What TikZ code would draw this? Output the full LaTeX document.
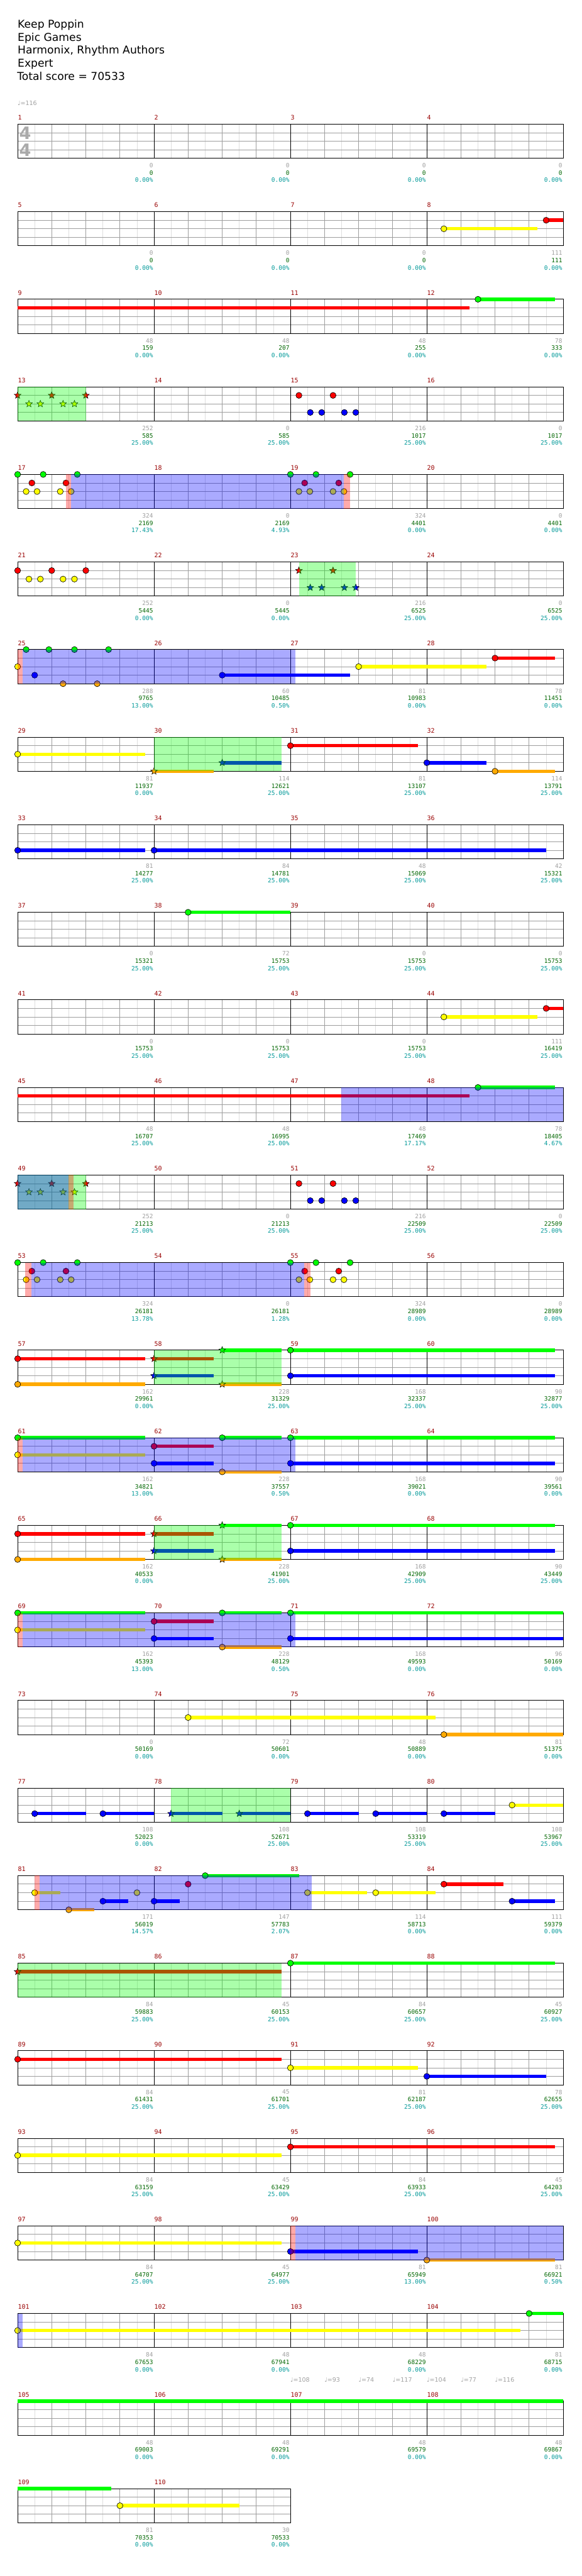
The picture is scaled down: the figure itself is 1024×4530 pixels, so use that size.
\documentclass[tikz,border=0pt]{standalone}
\usepackage{fontspec}
\setmainfont{DejaVu Sans}
\newfontfamily\monof{DejaVu Sans Mono}
\usetikzlibrary{shapes.geometric}
\definecolor{cG}{RGB}{0,255,0}
\definecolor{cR}{RGB}{255,0,0}
\definecolor{cY}{RGB}{255,255,0}
\definecolor{cB}{RGB}{0,0,255}
\definecolor{cO}{RGB}{255,170,0}
\definecolor{lgray}{RGB}{222,222,222}
\definecolor{mgray}{RGB}{158,158,158}
\definecolor{mred}{RGB}{153,0,0}
\definecolor{sgray}{RGB}{160,160,160}
\definecolor{sgreen}{RGB}{0,102,0}
\definecolor{steal}{RGB}{0,153,153}
\definecolor{tsgray}{RGB}{170,170,170}
\newcounter{nd}
\tikzset{
  head/.style={draw=black,line width=0.7pt},
  sus/.style={line width=6pt},
  starn/.style={star,star points=5,star point ratio=2.3,minimum size=12.5pt,inner sep=0pt,draw=black,line width=0.6pt},
  halfl/.style={draw=lgray,line width=0.8pt},
  beatl/.style={draw=mgray,line width=0.9pt},
  lanel/.style={draw=mgray,line width=0.9pt},
  barl/.style={draw=black,line width=1.1pt},
  mnum/.style={anchor=west,inner sep=0pt,text=mred,font=\monof\fontsize{11}{11}\selectfont},
  st1/.style={anchor=east,inner sep=0pt,text=sgray,font=\monof\fontsize{10.5}{10.5}\selectfont},
  st2/.style={anchor=east,inner sep=0pt,text=sgreen,font=\monof\fontsize{10.5}{10.5}\selectfont},
  st3/.style={anchor=east,inner sep=0pt,text=steal,font=\monof\fontsize{10.5}{10.5}\selectfont},
  tempo/.style={anchor=west,inner sep=0pt,text=sgray,font=\fontsize{10.5}{10.5}\selectfont},
  tsig/.style={inner sep=0pt,text=tsgray,font=\bfseries\fontsize{30}{30}\selectfont},
  ttl/.style={anchor=base west,inner sep=0pt,font=\fontsize{19}{23}\selectfont}
}
\newcommand\Grid[1]{%
  \pgfmathtruncatemacro\nh{4*#1-1}%
  \pgfmathtruncatemacro\nm{#1-1}%
  \foreach \k in {0,...,\nh} {\draw[halfl] (60*\k+30,0) -- (60*\k+30,60);}
  \foreach \k in {1,...,\nh} {\draw[beatl] (60*\k,0) -- (60*\k,60);}
  \foreach \yy in {15,30,45} {\draw[lanel] (0,\yy) -- (240*#1,\yy);}
  \foreach \k in {1,...,\nm} {\draw[barl] (240*\k,0) -- (240*\k,60);}
  \draw[barl] (0,0) rectangle (240*#1,60);
}
\newcommand\Hd[3]{\draw[head,fill=#1] ({60*(#2)},{15*(#3)}) circle[radius=5.3pt];}
\newcommand\Sus[4]{\draw[sus,#1] ({60*(#2)},{15*(#4)}) -- ({60*(#3)},{15*(#4)});}
\newcommand\Sx[3]{\stepcounter{nd}\node[starn,fill=#1] (n\arabic{nd}) at ({60*(#2)},{15*(#3)}) {};}
\newcommand\OvG[2]{\fill[cG,opacity=0.333] ({60*(#1)},0) rectangle ({60*(#2)},60);}
\newcommand\OvB[2]{\fill[cB,opacity=0.333] ({60*(#1)},0) rectangle ({60*(#2)},60);}
\newcommand\OvP[2]{\fill[cR,opacity=0.333] ({60*(#1)},0) rectangle ({60*(#2)},60);}
\newcommand\Meas[5]{%
  \stepcounter{nd}\node[mnum] (n\arabic{nd}) at (240*#1-240+0.5,-11.5) {#2};
  \stepcounter{nd}\node[st1] (n\arabic{nd}) at (240*#1-1.5,72.7) {#3};
  \stepcounter{nd}\node[st2] (n\arabic{nd}) at (240*#1-1.5,85.7) {#4};
  \stepcounter{nd}\node[st3] (n\arabic{nd}) at (240*#1-1.5,98.4) {#5\%};}
% patterns
\newcommand\TripStars{% red stars 0,1,2; yellow stars thirds
  \Sx{cR}{0}{1}\Sx{cR}{1}{1}\Sx{cR}{2}{1}
  \Sx{cY}{0.333}{2}\Sx{cY}{0.667}{2}\Sx{cY}{1.333}{2}\Sx{cY}{1.667}{2}}
\newcommand\RBnotes[1]{% red + blue pattern starting at beat #1
  \Hd{cR}{#1+0.25}{1}\Hd{cR}{#1+1.25}{1}
  \Hd{cB}{#1+0.583}{3}\Hd{cB}{#1+0.917}{3}\Hd{cB}{#1+1.583}{3}\Hd{cB}{#1+1.917}{3}}
\newcommand\GRYnotes[1]{%
  \Hd{cY}{#1+0.25}{2}\Hd{cY}{#1+0.57}{2}\Hd{cY}{#1+1.25}{2}\Hd{cY}{#1+1.57}{2}
  \Hd{cR}{#1+0.417}{1}\Hd{cR}{#1+1.417}{1}
  \Hd{cG}{#1}{0}\Hd{cG}{#1+0.75}{0}\Hd{cG}{#1+1.75}{0}}
\newcommand\ChordRowA{% rows 57, 65
  \Sus{cR}{0}{3.75}{1}\Sus{cO}{0}{3.75}{4}
  \Sus{cR}{4}{5.75}{1}\Sus{cB}{4}{5.75}{3}\Sus{cG}{6}{7.75}{0}\Sus{cO}{6}{7.75}{4}
  \Sus{cG}{8}{15.75}{0}\Sus{cB}{8}{15.75}{3}
  \Hd{cR}{0}{1}\Hd{cO}{0}{4}\Hd{cG}{8}{0}\Hd{cB}{8}{3}
  \Sx{cR}{4}{1}\Sx{cB}{4}{3}\Sx{cG}{6}{0}\Sx{cO}{6}{4}
  \OvG{4}{7.75}}
\newcommand\ChordRowB[1]{% rows 61, 69
  \Sus{cG}{0}{3.75}{0}\Sus{cY}{0}{3.75}{2}
  \Sus{cR}{4}{5.75}{1}\Sus{cB}{4}{5.75}{3}\Sus{cG}{6}{7.75}{0}\Sus{cO}{6}{7.75}{4}
  \Sus{cG}{8}{#1}{0}\Sus{cB}{8}{#1}{3}
  \Hd{cG}{0}{0}\Hd{cY}{0}{2}\Hd{cR}{4}{1}\Hd{cB}{4}{3}\Hd{cG}{6}{0}\Hd{cO}{6}{4}
  \Hd{cG}{8}{0}\Hd{cB}{8}{3}
  \OvP{0}{0.15}\OvB{0.15}{8.14}}
\begin{document}
\begin{tikzpicture}[x=1pt,y=-1pt]
\fill[white] (0,0) rectangle (1024,4530);
\useasboundingbox (0,0) rectangle (1024,4530);
\node[ttl] (t1) at (31,49) {Keep Poppin};
\node[ttl] (t2) at (31,72) {Epic Games};
\node[ttl] (t3) at (31,95) {Harmonix, Rhythm Authors};
\node[ttl] (t4) at (31,118) {Expert};
\node[ttl] (t5) at (30,141) {Total score = 70533};
% row 0
\begin{scope}[shift={(31,218.3)}]
\Grid{4}
\node[tsig] (ts1) at (13.2,15.5) {4};
\node[tsig] (ts2) at (13.2,45.2) {4};
\node[tempo] (tp0) at (0,-37) {♩=116};
\Meas{1}{1}{0}{0}{0.00}\Meas{2}{2}{0}{0}{0.00}\Meas{3}{3}{0}{0}{0.00}\Meas{4}{4}{0}{0}{0.00}
\end{scope}
% row 1
\begin{scope}[shift={(31,218.3+154*1)}]
\Grid{4}
\Sus{cY}{12.5}{15.25}{2}\Sus{cR}{15.5}{16}{1}
\Hd{cY}{12.5}{2}\Hd{cR}{15.5}{1}
\Meas{1}{5}{0}{0}{0.00}\Meas{2}{6}{0}{0}{0.00}\Meas{3}{7}{0}{0}{0.00}\Meas{4}{8}{111}{111}{0.00}
\end{scope}
% row 2
\begin{scope}[shift={(31,218.3+154*2)}]
\Grid{4}
\Sus{cR}{0}{13.25}{1}\Sus{cG}{13.5}{15.75}{0}
\Hd{cG}{13.5}{0}
\Meas{1}{9}{48}{159}{0.00}\Meas{2}{10}{48}{207}{0.00}\Meas{3}{11}{48}{255}{0.00}\Meas{4}{12}{78}{333}{0.00}
\end{scope}
% row 3
\begin{scope}[shift={(31,218.3+154*3)}]
\Grid{4}
\TripStars
\RBnotes{8}
\OvG{0}{2}
\Meas{1}{13}{252}{585}{25.00}\Meas{2}{14}{0}{585}{25.00}\Meas{3}{15}{216}{1017}{25.00}\Meas{4}{16}{0}{1017}{25.00}
\end{scope}
% row 4
\begin{scope}[shift={(31,218.3+154*4)}]
\Grid{4}
\GRYnotes{0}\GRYnotes{8}
\OvP{1.417}{1.567}\OvB{1.567}{9.567}\OvP{9.567}{9.75}
\Meas{1}{17}{324}{2169}{17.43}\Meas{2}{18}{0}{2169}{4.93}\Meas{3}{19}{324}{4401}{0.00}\Meas{4}{20}{0}{4401}{0.00}
\end{scope}
% row 5
\begin{scope}[shift={(31,218.3+154*5)}]
\Grid{4}
\Hd{cR}{0}{1}\Hd{cR}{1}{1}\Hd{cR}{2}{1}
\Hd{cY}{0.333}{2}\Hd{cY}{0.667}{2}\Hd{cY}{1.333}{2}\Hd{cY}{1.667}{2}
\Sx{cR}{8.25}{1}\Sx{cR}{9.25}{1}
\Sx{cB}{8.583}{3}\Sx{cB}{8.917}{3}\Sx{cB}{9.583}{3}\Sx{cB}{9.917}{3}
\OvG{8.25}{9.92}
\Meas{1}{21}{252}{5445}{0.00}\Meas{2}{22}{0}{5445}{0.00}\Meas{3}{23}{216}{6525}{25.00}\Meas{4}{24}{0}{6525}{25.00}
\end{scope}
% row 6
\begin{scope}[shift={(31,218.3+154*6)}]
\Grid{4}
\Sus{cB}{6}{9.75}{3}\Sus{cY}{10}{13.75}{2}\Sus{cR}{14}{15.75}{1}
\Hd{cY}{0}{2}\Hd{cG}{0.25}{0}\Hd{cB}{0.5}{3}\Hd{cG}{0.917}{0}\Hd{cO}{1.333}{4}
\Hd{cG}{1.667}{0}\Hd{cO}{2.333}{4}\Hd{cG}{2.667}{0}
\Hd{cB}{6}{3}\Hd{cY}{10}{2}\Hd{cR}{14}{1}
\OvP{0}{0.15}\OvB{0.15}{8.14}
\Meas{1}{25}{288}{9765}{13.00}\Meas{2}{26}{60}{10485}{0.50}\Meas{3}{27}{81}{10983}{0.00}\Meas{4}{28}{78}{11451}{0.00}
\end{scope}
% row 7
\begin{scope}[shift={(31,218.3+154*7)}]
\Grid{4}
\Sus{cY}{0}{3.75}{2}\Sus{cO}{4}{5.75}{4}\Sus{cB}{6}{7.75}{3}
\Sus{cR}{8}{11.75}{1}\Sus{cB}{12}{13.75}{3}\Sus{cO}{14}{15.75}{4}
\Hd{cY}{0}{2}\Hd{cR}{8}{1}\Hd{cB}{12}{3}\Hd{cO}{14}{4}
\Sx{cO}{4}{4}\Sx{cB}{6}{3}
\OvG{4}{7.75}
\Meas{1}{29}{81}{11937}{0.00}\Meas{2}{30}{114}{12621}{25.00}\Meas{3}{31}{81}{13107}{25.00}\Meas{4}{32}{114}{13791}{25.00}
\end{scope}
% row 8
\begin{scope}[shift={(31,218.3+154*8)}]
\Grid{4}
\Sus{cB}{0}{3.75}{3}\Sus{cB}{4}{15.5}{3}
\Hd{cB}{0}{3}\Hd{cB}{4}{3}
\Meas{1}{33}{81}{14277}{25.00}\Meas{2}{34}{84}{14781}{25.00}\Meas{3}{35}{48}{15069}{25.00}\Meas{4}{36}{42}{15321}{25.00}
\end{scope}
% row 9
\begin{scope}[shift={(31,218.3+154*9)}]
\Grid{4}
\Sus{cG}{5}{8}{0}\Hd{cG}{5}{0}
\Meas{1}{37}{0}{15321}{25.00}\Meas{2}{38}{72}{15753}{25.00}\Meas{3}{39}{0}{15753}{25.00}\Meas{4}{40}{0}{15753}{25.00}
\end{scope}
% row 10
\begin{scope}[shift={(31,218.3+154*10)}]
\Grid{4}
\Sus{cY}{12.5}{15.25}{2}\Sus{cR}{15.5}{16}{1}
\Hd{cY}{12.5}{2}\Hd{cR}{15.5}{1}
\Meas{1}{41}{0}{15753}{25.00}\Meas{2}{42}{0}{15753}{25.00}\Meas{3}{43}{0}{15753}{25.00}\Meas{4}{44}{111}{16419}{25.00}
\end{scope}
% row 11
\begin{scope}[shift={(31,218.3+154*11)}]
\Grid{4}
\Sus{cR}{0}{13.25}{1}\Sus{cG}{13.5}{15.75}{0}
\Hd{cG}{13.5}{0}
\OvB{9.5}{16}
\Meas{1}{45}{48}{16707}{25.00}\Meas{2}{46}{48}{16995}{25.00}\Meas{3}{47}{48}{17469}{17.17}\Meas{4}{48}{78}{18405}{4.67}
\end{scope}
% row 12
\begin{scope}[shift={(31,218.3+154*12)}]
\Grid{4}
\TripStars
\RBnotes{8}
\OvG{0}{2}\OvB{0}{1.5}\OvP{1.5}{1.64}
\Meas{1}{49}{252}{21213}{25.00}\Meas{2}{50}{0}{21213}{25.00}\Meas{3}{51}{216}{22509}{25.00}\Meas{4}{52}{0}{22509}{25.00}
\end{scope}
% row 13
\begin{scope}[shift={(31,218.3+154*13)}]
\Grid{4}
\GRYnotes{0}\GRYnotes{8}
\OvP{0.22}{0.40}\OvB{0.40}{8.40}\OvP{8.40}{8.58}
\Meas{1}{53}{324}{26181}{13.78}\Meas{2}{54}{0}{26181}{1.28}\Meas{3}{55}{324}{28989}{0.00}\Meas{4}{56}{0}{28989}{0.00}
\end{scope}
% row 14
\begin{scope}[shift={(31,218.3+154*14)}]
\Grid{4}
\ChordRowA
\Meas{1}{57}{162}{29961}{0.00}\Meas{2}{58}{228}{31329}{25.00}\Meas{3}{59}{168}{32337}{25.00}\Meas{4}{60}{90}{32877}{25.00}
\end{scope}
% row 15
\begin{scope}[shift={(31,218.3+154*15)}]
\Grid{4}
\ChordRowB{15.75}
\Meas{1}{61}{162}{34821}{13.00}\Meas{2}{62}{228}{37557}{0.50}\Meas{3}{63}{168}{39021}{0.00}\Meas{4}{64}{90}{39561}{0.00}
\end{scope}
% row 16
\begin{scope}[shift={(31,218.3+154*16)}]
\Grid{4}
\ChordRowA
\Meas{1}{65}{162}{40533}{0.00}\Meas{2}{66}{228}{41901}{25.00}\Meas{3}{67}{168}{42909}{25.00}\Meas{4}{68}{90}{43449}{25.00}
\end{scope}
% row 17
\begin{scope}[shift={(31,218.3+154*17)}]
\Grid{4}
\ChordRowB{16}
\Meas{1}{69}{162}{45393}{13.00}\Meas{2}{70}{228}{48129}{0.50}\Meas{3}{71}{168}{49593}{0.00}\Meas{4}{72}{96}{50169}{0.00}
\end{scope}
% row 18
\begin{scope}[shift={(31,218.3+154*18)}]
\Grid{4}
\Sus{cY}{5}{12.25}{2}\Sus{cO}{12.5}{16}{4}
\Hd{cY}{5}{2}\Hd{cO}{12.5}{4}
\Meas{1}{73}{0}{50169}{0.00}\Meas{2}{74}{72}{50601}{0.00}\Meas{3}{75}{48}{50889}{0.00}\Meas{4}{76}{81}{51375}{0.00}
\end{scope}
% row 19
\begin{scope}[shift={(31,218.3+154*19)}]
\Grid{4}
\Sus{cB}{0.5}{2}{3}\Sus{cB}{2.5}{4}{3}\Sus{cB}{4.5}{6}{3}\Sus{cB}{6.5}{8}{3}
\Sus{cB}{8.5}{10}{3}\Sus{cB}{10.5}{12}{3}\Sus{cB}{12.5}{14}{3}\Sus{cY}{14.5}{16}{2}
\Hd{cB}{0.5}{3}\Hd{cB}{2.5}{3}\Hd{cB}{8.5}{3}\Hd{cB}{10.5}{3}\Hd{cB}{12.5}{3}\Hd{cY}{14.5}{2}
\Sx{cB}{4.5}{3}\Sx{cB}{6.5}{3}
\OvG{4.5}{8}
\Meas{1}{77}{108}{52023}{0.00}\Meas{2}{78}{108}{52671}{25.00}\Meas{3}{79}{108}{53319}{25.00}\Meas{4}{80}{108}{53967}{25.00}
\end{scope}
% row 20
\begin{scope}[shift={(31,218.3+154*20)}]
\Grid{4}
\Sus{cY}{0.5}{1.25}{2}\Sus{cO}{1.5}{2.25}{4}\Sus{cB}{2.5}{3.25}{3}\Sus{cB}{4}{4.75}{3}
\Sus{cG}{5.5}{8.25}{0}\Sus{cY}{8.5}{10.25}{2}\Sus{cY}{10.5}{12.25}{2}\Sus{cR}{12.5}{14.25}{1}\Sus{cB}{14.5}{15.75}{3}
\Hd{cY}{0.5}{2}\Hd{cO}{1.5}{4}\Hd{cB}{2.5}{3}\Hd{cY}{3.5}{2}\Hd{cB}{4}{3}\Hd{cR}{5}{1}
\Hd{cG}{5.5}{0}\Hd{cY}{8.5}{2}\Hd{cY}{10.5}{2}\Hd{cR}{12.5}{1}\Hd{cB}{14.5}{3}
\OvP{0.49}{0.64}\OvB{0.64}{8.63}
\Meas{1}{81}{171}{56019}{14.57}\Meas{2}{82}{147}{57783}{2.07}\Meas{3}{83}{114}{58713}{0.00}\Meas{4}{84}{111}{59379}{0.00}
\end{scope}
% row 21
\begin{scope}[shift={(31,218.3+154*21)}]
\Grid{4}
\Sus{cR}{0}{7.75}{1}\Sus{cG}{8}{15.75}{0}
\Sx{cR}{0}{1}\Hd{cG}{8}{0}
\OvG{0}{7.75}
\Meas{1}{85}{84}{59883}{25.00}\Meas{2}{86}{45}{60153}{25.00}\Meas{3}{87}{84}{60657}{25.00}\Meas{4}{88}{45}{60927}{25.00}
\end{scope}
% row 22
\begin{scope}[shift={(31,218.3+154*22)}]
\Grid{4}
\Sus{cR}{0}{7.75}{1}\Sus{cY}{8}{11.75}{2}\Sus{cB}{12}{15.5}{3}
\Hd{cR}{0}{1}\Hd{cY}{8}{2}\Hd{cB}{12}{3}
\Meas{1}{89}{84}{61431}{25.00}\Meas{2}{90}{45}{61701}{25.00}\Meas{3}{91}{81}{62187}{25.00}\Meas{4}{92}{78}{62655}{25.00}
\end{scope}
% row 23
\begin{scope}[shift={(31,218.3+154*23)}]
\Grid{4}
\Sus{cY}{0}{7.75}{2}\Sus{cR}{8}{15.75}{1}
\Hd{cY}{0}{2}\Hd{cR}{8}{1}
\Meas{1}{93}{84}{63159}{25.00}\Meas{2}{94}{45}{63429}{25.00}\Meas{3}{95}{84}{63933}{25.00}\Meas{4}{96}{45}{64203}{25.00}
\end{scope}
% row 24
\begin{scope}[shift={(31,218.3+154*24)}]
\Grid{4}
\Sus{cY}{0}{7.75}{2}\Sus{cB}{8}{11.75}{3}\Sus{cO}{12}{15.75}{4}
\Hd{cY}{0}{2}\Hd{cB}{8}{3}\Hd{cO}{12}{4}
\OvP{8}{8.14}\OvB{8.14}{16}
\Meas{1}{97}{84}{64707}{25.00}\Meas{2}{98}{45}{64977}{25.00}\Meas{3}{99}{81}{65949}{13.00}\Meas{4}{100}{81}{66921}{0.50}
\end{scope}
% row 25
\begin{scope}[shift={(31,218.3+154*25)}]
\Grid{4}
\Sus{cY}{0}{14.75}{2}\Sus{cG}{15}{16}{0}
\Hd{cY}{0}{2}\Hd{cG}{15}{0}
\OvB{0}{0.15}
\Meas{1}{101}{84}{67653}{0.00}\Meas{2}{102}{48}{67941}{0.00}\Meas{3}{103}{48}{68229}{0.00}\Meas{4}{104}{81}{68715}{0.00}
\end{scope}
% row 26
\begin{scope}[shift={(31,218.3+154*26)}]
\Grid{4}
\Sus{cG}{0}{16}{0}
\node[tempo] (tp1) at (480,-37) {♩=108};
\node[tempo] (tp2) at (540,-37) {♩=93};
\node[tempo] (tp3) at (600,-37) {♩=74};
\node[tempo] (tp4) at (660,-37) {♩=117};
\node[tempo] (tp5) at (720,-37) {♩=104};
\node[tempo] (tp6) at (780,-37) {♩=77};
\node[tempo] (tp7) at (840,-37) {♩=116};
\Meas{1}{105}{48}{69003}{0.00}\Meas{2}{106}{48}{69291}{0.00}\Meas{3}{107}{48}{69579}{0.00}\Meas{4}{108}{48}{69867}{0.00}
\end{scope}
% row 27
\begin{scope}[shift={(31,218.3+154*27)}]
\Grid{2}
\Sus{cG}{0}{2.75}{0}\Sus{cY}{3}{6.5}{2}
\Hd{cY}{3}{2}
\Meas{1}{109}{81}{70353}{0.00}\Meas{2}{110}{30}{70533}{0.00}
\end{scope}
\end{tikzpicture}
\end{document}
